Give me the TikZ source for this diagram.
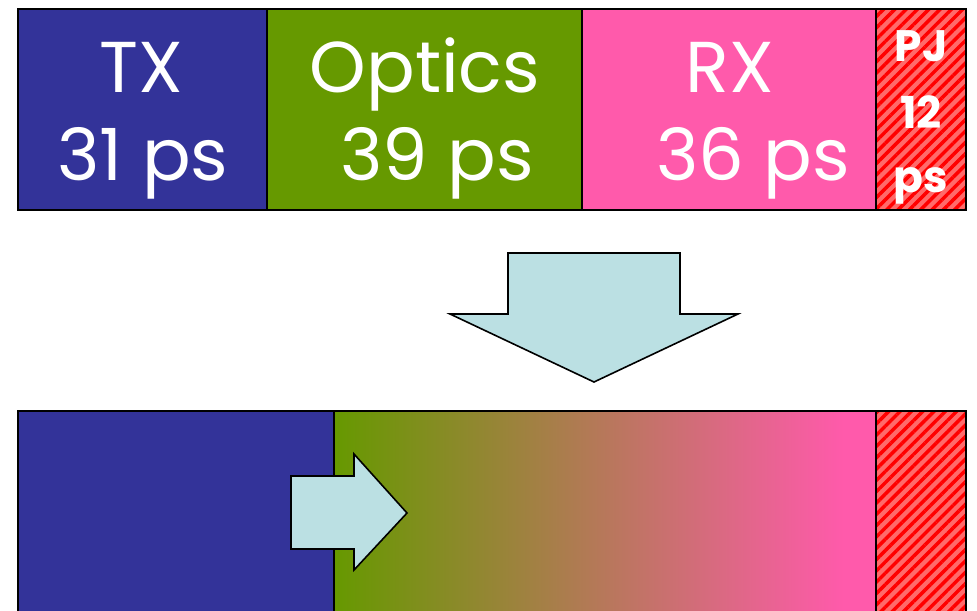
\documentclass[tikz,border=0pt]{standalone}
\usepackage{fontspec}
\setmainfont{Poppins}
\usetikzlibrary{patterns.meta}

\definecolor{txblue}{HTML}{333399}
\definecolor{optgreen}{HTML}{669900}
\definecolor{rxpink}{HTML}{FF5AAB}
\definecolor{pjlight}{HTML}{FF6A6A}
\definecolor{arrowblue}{HTML}{BBE0E3}
\pgfdeclarehorizontalshading{optrx}{100bp}{color(0bp)=(optgreen); color(25bp)=(optgreen); color(72bp)=(rxpink); color(100bp)=(rxpink)}

\begin{document}
\begin{tikzpicture}[x=0.75pt,y=-0.75pt,
  blk/.style={draw=black, line width=1.2pt},
  big/.style={text=white, font=\fontsize{54}{62}\selectfont, inner sep=0pt, anchor=base},
  small/.style={text=white, font=\bfseries\fontsize{33}{40}\selectfont, inner sep=0pt, anchor=base},
  hatch/.style={preaction={fill=pjlight}, pattern={Lines[angle=45,distance=6pt,line width=2.6pt]}, pattern color=red},
  fat/.style={fill=arrowblue, draw=black, line width=1.2pt, line join=miter}]
\useasboundingbox (0,0) rectangle (977,610);

% 上排：各部分的时间
\foreach \xa/\xb/\c in {18/267/txblue, 267/582/optgreen, 582/876/rxpink}{
  \fill[\c] (\xa,9) rectangle (\xb,210);
  \draw[blk] (\xa,9) rectangle (\xb,210);
}
\path[hatch] (876,9) rectangle (966,210);
\draw[blk] (876,9) rectangle (966,210);

% 文字
\node[big] (tx) at (141,92) {TX};
\node[big] (txt) at (143,180) {31 ps};
\node[big] (opt) at (425,92) {Optics};
\node[big] (optt) at (437,180) {39 ps};
\node[big] (rx) at (730,92) {RX};
\node[big] (rxt) at (753,180) {36 ps};
\node[small] (pj) at (921,62) {PJ};
\node[small] (pjn) at (921,128) {12};
\node[small] (pjt) at (921,192) {ps};

% 向下的箭头
\draw[fat] (508,253) -- (680,253) -- (680,314) -- (738,314) -- (594,382) -- (450,314) -- (508,314) -- cycle;

% 下排：合并之后
\fill[txblue] (18,411) rectangle (334,614);
\shade[shading=optrx] (334,411) rectangle (876,614);
\path[hatch] (876,411) rectangle (966,614);
\draw[blk] (18,411) rectangle (334,614);
\draw[blk] (334,411) rectangle (876,614);
\draw[blk] (876,411) rectangle (966,614);

% 向右的箭头
\draw[fat] (291,476) -- (354,476) -- (354,454) -- (407,513) -- (354,570) -- (354,549) -- (291,549) -- cycle;
\end{tikzpicture}
\end{document}
